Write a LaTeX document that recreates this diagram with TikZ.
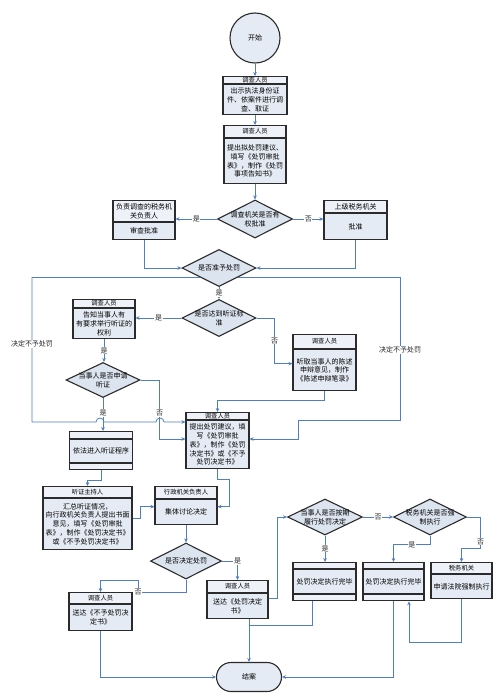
\documentclass[tikz,border=0pt]{standalone}
\usepackage{fontspec}
\newfontfamily\cjk{Noto Sans CJK SC}
\usepackage{tikz}
\usetikzlibrary{shapes.geometric,arrows.meta,positioning,calc}

\definecolor{edgegray}{HTML}{2B2B2B}
\definecolor{headfill}{HTML}{EEF2F8}
\definecolor{bodyfill}{HTML}{E5EBF4}
\definecolor{decfill}{HTML}{DCE4EF}
\definecolor{linkblue}{HTML}{4F7EC2}

\newcommand{\flowbody}{\cjk\fontsize{7}{8.8}\selectfont}
\newcommand{\flowhead}{\cjk\fontsize{6.3}{7.5}\selectfont}

\begin{document}
\begin{tikzpicture}[x=1pt, y=-1pt,
  headbox/.style  = {rectangle, draw=edgegray, fill=headfill, line width=1.1pt,
                     inner sep=0pt, align=center, font=\flowhead},
  bodybox/.style  = {rectangle, draw=edgegray, fill=bodyfill, line width=1.1pt,
                     inner sep=0pt, align=center, font=\flowbody},
  decbox/.style   = {diamond, aspect=2, draw=edgegray, fill=decfill,
                     line width=1.1pt, inner sep=-4pt, align=center,
                     font=\flowbody},
  termnode/.style = {draw=edgegray, fill=bodyfill, line width=1.1pt,
                     inner sep=0pt, font=\flowbody},
  arr/.style = {-{Stealth[length=4pt,width=3.6pt]}, line width=0.8pt, linkblue},
  lnk/.style = {line width=0.8pt, linkblue},
  lbl/.style = {font=\flowbody, text=black!85, fill=white, inner sep=0.6pt},
]
\useasboundingbox (0,0) rectangle (500,693);

%%═══════════════════════════════════════════════════════════
%% Investigation and approval
%%═══════════════════════════════════════════════════════════

\node[termnode, circle, minimum size=50pt] (start) at (255,38) {开始};

\node[headbox, minimum width=64pt, minimum height=7pt, anchor=north]
  (b1h) at (255,76) {调查人员};
\node[bodybox, minimum width=64pt, minimum height=30pt, below=0pt of b1h] (b1)
  {出示执法身份证\\件、依案件进行调\\查、取证};

\node[headbox, minimum width=62pt, minimum height=12pt, anchor=north]
  (b2h) at (255,125) {调查人员};
\node[bodybox, minimum width=62pt, minimum height=45pt, below=0pt of b2h] (b2)
  {提出拟处罚建议、\\填写《处罚审批\\表》，制作《处罚\\事项告知书》};

\node[decbox, minimum width=75pt, minimum height=38pt] (d4) at (255,219)
  {调查机关是否有\\权批准};

\node[headbox, font=\flowbody, minimum width=62pt, minimum height=21pt,
  anchor=north] (b5h) at (144,200) {负责调查的税务机\\关负责人};
\node[bodybox, minimum width=62pt, minimum height=17pt, below=0pt of b5h] (b5)
  {审查批准};

\node[headbox, font=\flowbody, minimum width=63pt, minimum height=12pt,
  anchor=north] (b6h) at (355.5,200) {上级税务机关};
\node[bodybox, minimum width=63pt, minimum height=26pt, below=0pt of b6h] (b6)
  {批准};

\node[decbox, minimum width=74pt, minimum height=37pt] (d7) at (219,268)
  {是否准予处罚};

\draw[arr] (start) -- (b1h);
\draw[arr] (b1) -- (b2h);
\draw[arr] (b2) -- (d4);
\draw[arr] (d4.west) -- (d4.west -| b5.east) node[midway, lbl] {是};
\draw[arr] (d4.east) -- (d4.east -| b6.west) node[midway, lbl] {否};
\draw[arr] (b5.south) |- (d7.west);
\draw[arr] (b6.south) |- (d7.east);

%%═══════════════════════════════════════════════════════════
%% Hearing
%%═══════════════════════════════════════════════════════════

\node[decbox, minimum width=74pt, minimum height=37pt] (d9) at (219,318)
  {是否达到听证标\\准};

\node[headbox, minimum width=62pt, minimum height=8pt, anchor=north]
  (b10h) at (104,299) {调查人员};
\node[bodybox, minimum width=62pt, minimum height=30pt, below=0pt of b10h] (b10)
  {告知当事人有\\有要求举行听证的\\权利};

\node[headbox, minimum width=63pt, minimum height=14pt, anchor=north]
  (b11h) at (324.5,334) {调查人员};
\node[bodybox, minimum width=63pt, minimum height=41pt, below=0pt of b11h] (b11)
  {听取当事人的陈述\\申辩意见，制作\\《陈述申辩笔录》};

\node[decbox, minimum width=74pt, minimum height=35pt] (d12) at (103,380)
  {当事人是否申请\\听证};

\node[headbox, minimum width=63pt, minimum height=7pt, anchor=north]
  (b13t) at (101,431) {};
\node[bodybox, minimum width=63pt, minimum height=23pt, below=0pt of b13t] (b13)
  {依法进入听证程序};
\node[headbox, minimum width=63pt, minimum height=6pt, below=0pt of b13] (b13f) {};

\node[headbox, minimum width=63pt, minimum height=7pt, anchor=north]
  (b14h) at (217.5,412) {调查人员};
\node[bodybox, minimum width=63pt, minimum height=48pt, below=0pt of b14h] (b14)
  {提出处罚建议，填\\写《处罚审批\\表》，制作《处罚\\决定书》或《不予\\处罚决定书》};

\draw[arr] (d7.south) -- (d9.north) node[midway, lbl] {是};
\draw[arr] (d9.west) -- (d9.west -| b10.east) node[midway, lbl] {是};
\draw[arr] (d9.east) -- ++(18,0) |- ([yshift=6.5pt]b11.west)
  node[pos=0.25, lbl] {否};
\draw[arr] (b10.south) -- (b10.south |- d12.north) node[midway, lbl] {是};
\draw[arr] (d12.south) -- (d12.south |- b13t.north) node[pos=0.45, lbl] {是};
\draw[arr] (d12.east) -- ++(19,0) |- (b14.west |- 0,439)
  node[pos=0.28, lbl] {否};

%% not punished: both sides, with line jumps
\draw[arr] ($(d7.west)!0.5!(d7.south)$) -| (32,422)
  node[pos=0.73, lbl] {决定不予处罚}
  -- (96,422) arc[start angle=180, end angle=0, radius=4pt]
  -- (156,422) arc[start angle=180, end angle=0, radius=4pt]
  -- (b14.west |- 0,422);
\draw[arr] ($(d7.east)!0.5!(d7.south)$) -| (400,420)
  node[pos=0.755, lbl] {决定不予处罚}
  -| (298,439) -- (b14.east |- 0,439);

\draw[arr] (b11.south) -- ++(0,9) -| (b14h.north);

%%═══════════════════════════════════════════════════════════
%% Decision
%%═══════════════════════════════════════════════════════════

\node[headbox, minimum width=89pt, minimum height=11pt, anchor=north]
  (b16h) at (87.5,486) {听证主持人};
\node[bodybox, minimum width=89pt, minimum height=51pt, below=0pt of b16h] (b16)
  {汇总听证情况，\\向行政机关负责人提出书面\\意见，填写《处罚审批\\表》，制作《处罚决定书》\\或《不予处罚决定书》};

\node[headbox, minimum width=62pt, minimum height=12pt, anchor=north]
  (b17h) at (186,486) {行政机关负责人};
\node[bodybox, minimum width=62pt, minimum height=25pt, below=0pt of b17h] (b17)
  {集体讨论决定};

\node[decbox, minimum width=71pt, minimum height=36pt] (d18) at (186,561)
  {是否决定处罚};

\node[headbox, minimum width=61pt, minimum height=12pt, anchor=north]
  (b19h) at (237.5,580) {调查人员};
\node[bodybox, minimum width=61pt, minimum height=25pt, below=0pt of b19h] (b19)
  {送达《处罚决定\\书》};

\node[headbox, minimum width=63pt, minimum height=11pt, anchor=north]
  (b20h) at (100.5,592) {调查人员};
\node[bodybox, minimum width=63pt, minimum height=26pt, below=0pt of b20h] (b20)
  {送达《不予处罚决\\定书》};

\draw[arr] (b13f.south) -- ++(0,10) -| (b16h.north);
\draw[arr] ([yshift=5.5pt]b16.east) -- ++(8,0) |- ([yshift=5.5pt]b17.west);
\draw[arr] (b14.south) -- ++(0,10) -- ++(12,0) |- ([yshift=5.5pt]b17.east);
\draw[arr] (b17.south) -- (b17.south |- d18.north);
\draw[arr] (d18.east) -| (b19h.north) node[pos=0.5, lbl] {是};
\draw[arr] (d18.south) |- (138,592) node[pos=1, lbl] {否}
  |- (b20h.north |- 0,580) -- (b20h.north);

%%═══════════════════════════════════════════════════════════
%% Execution
%%═══════════════════════════════════════════════════════════

\node[decbox, minimum width=75pt, minimum height=36pt] (d21) at (325,517)
  {当事人是否按期\\履行处罚决定};
\node[decbox, minimum width=73pt, minimum height=36pt] (d22) at (430,517)
  {税务机关是否强\\制执行};

\node[headbox, minimum width=63pt, minimum height=6pt, anchor=north]
  (b23t) at (324.5,562) {};
\node[bodybox, minimum width=63pt, minimum height=24pt, below=0pt of b23t] (b23)
  {处罚决定执行完毕};
\node[headbox, minimum width=63pt, minimum height=6pt, below=0pt of b23] (b23f) {};

\node[headbox, minimum width=61pt, minimum height=6pt, anchor=north]
  (b24t) at (393.5,562) {};
\node[bodybox, minimum width=61pt, minimum height=24pt, below=0pt of b24t] (b24)
  {处罚决定执行完毕};
\node[headbox, minimum width=61pt, minimum height=6pt, below=0pt of b24] (b24f) {};

\node[headbox, minimum width=61pt, minimum height=11pt, anchor=north]
  (b25h) at (461.5,562) {税务机关};
\node[bodybox, minimum width=61pt, minimum height=24pt, below=0pt of b25h] (b25)
  {申请法院强制执行};

\node[termnode, rectangle, rounded corners=14.5pt, minimum width=65pt,
  minimum height=29pt] (end) at (249,677) {结案};

\draw[arr] ([yshift=7.5pt]b19.east) -- ++(9,0) |- (d21.west);
\draw[arr] (d21.east) -- (d22.west) node[midway, lbl] {否};
\draw[arr] (d21.south) -- (d21.south |- b23t.north) node[midway, lbl] {是};
\draw[arr] (d22.south) -- ++(0,9) -| (b24t.north) node[pos=0.25, lbl] {是};
\draw[arr] (d22.east) -- ++(13.5,0) |- ($(b25h.north)+(0,-14)$)
  node[pos=0.4, lbl] {否} -- (b25h.north);
\draw[arr] (b25.south) -- ++(0,43) -| ([xshift=15.5pt]b24f.south);

%% into the end node
\draw[arr] (b20.south) |- (end.west);
\draw[arr] (b19.south -| end.north) -- (end.north);
\draw[lnk] ([xshift=-12.5pt]b23f.south) |- ($(b19.south -| end.north)+(0,6)$);
\draw[arr] (b24f.south) |- (end.east);

\end{tikzpicture}
\end{document}
